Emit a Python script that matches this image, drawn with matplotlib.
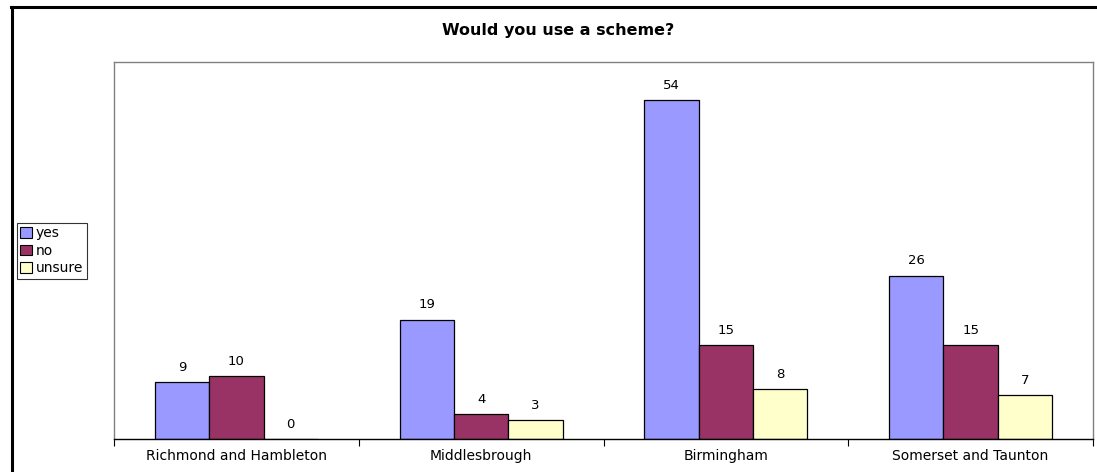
import matplotlib.pyplot as plt
from matplotlib.lines import Line2D
import numpy as np

plt.rcParams['font.family'] = ['DejaVu Sans']

regions = ['Richmond and Hambleton', 'Middlesbrough', 'Birmingham', 'Somerset and Taunton']
yes = [9, 19, 54, 26]
no = [10, 4, 15, 15]
unsure = [0, 3, 8, 7]

series = [('yes', yes, '#9999FF'), ('no', no, '#993366'), ('unsure', unsure, '#FFFFCC')]

fig = plt.figure(figsize=(10.97, 4.72), dpi=100)
ax = fig.add_axes([114 / 1097, 33 / 472, 979 / 1097, 377 / 472])

x = np.arange(len(regions))
w = 1 / 4.5  # excel gap width 150%
for i, (name, vals, col) in enumerate(series):
    pos = x + (i - 1) * w
    bars = ax.bar(pos, vals, width=w, color=col, edgecolor='black', linewidth=0.9, label=name)
    for b, v in zip(bars, vals):
        ax.text(b.get_x() + b.get_width() / 2, v + 1.3, str(v), ha='center', va='bottom', fontsize=9.5)

ax.set_xlim(-0.5, len(regions) - 0.5)
ax.set_ylim(0, 60)
ax.set_yticks([])
ax.set_xticks(x)
ax.set_xticklabels(regions, fontsize=10)
ax.tick_params(axis='x', length=0, pad=7)
# ticks between categories
ax.set_xticks(np.arange(-0.5, len(regions)), minor=True)
ax.tick_params(axis='x', which='minor', length=5, width=0.8, color='black', direction='out')

for s in ['top', 'right', 'left']:
    ax.spines[s].set_color('#808080')
    ax.spines[s].set_linewidth(1)
ax.spines['bottom'].set_color('black')
ax.spines['bottom'].set_linewidth(1)

fig.text(558 / 1097, 1 - 30 / 472, 'Would you use a scheme?', ha='center', va='center',
         fontsize=11.5, fontweight='bold')

leg = fig.legend(loc='upper left', bbox_to_anchor=(17 / 1097, 1 - 223 / 472), fontsize=10,
                 frameon=True, fancybox=False, edgecolor='black', handlelength=0.8,
                 handleheight=0.8, handletextpad=0.3, borderpad=0.25, labelspacing=0.25,
                 borderaxespad=0)
leg.get_frame().set_linewidth(0.8)
for h in leg.legend_handles:
    h.set_linewidth(0.8)

# outer chart border (left and top visible)
fig.add_artist(Line2D([12 / 1097, 12 / 1097], [0, 1 - 7 / 472], color='black', linewidth=2.2,
                      transform=fig.transFigure))
fig.add_artist(Line2D([11 / 1097, 1], [1 - 7 / 472, 1 - 7 / 472], color='black', linewidth=2.2,
                      transform=fig.transFigure))

plt.savefig('out.png', dpi=100)
